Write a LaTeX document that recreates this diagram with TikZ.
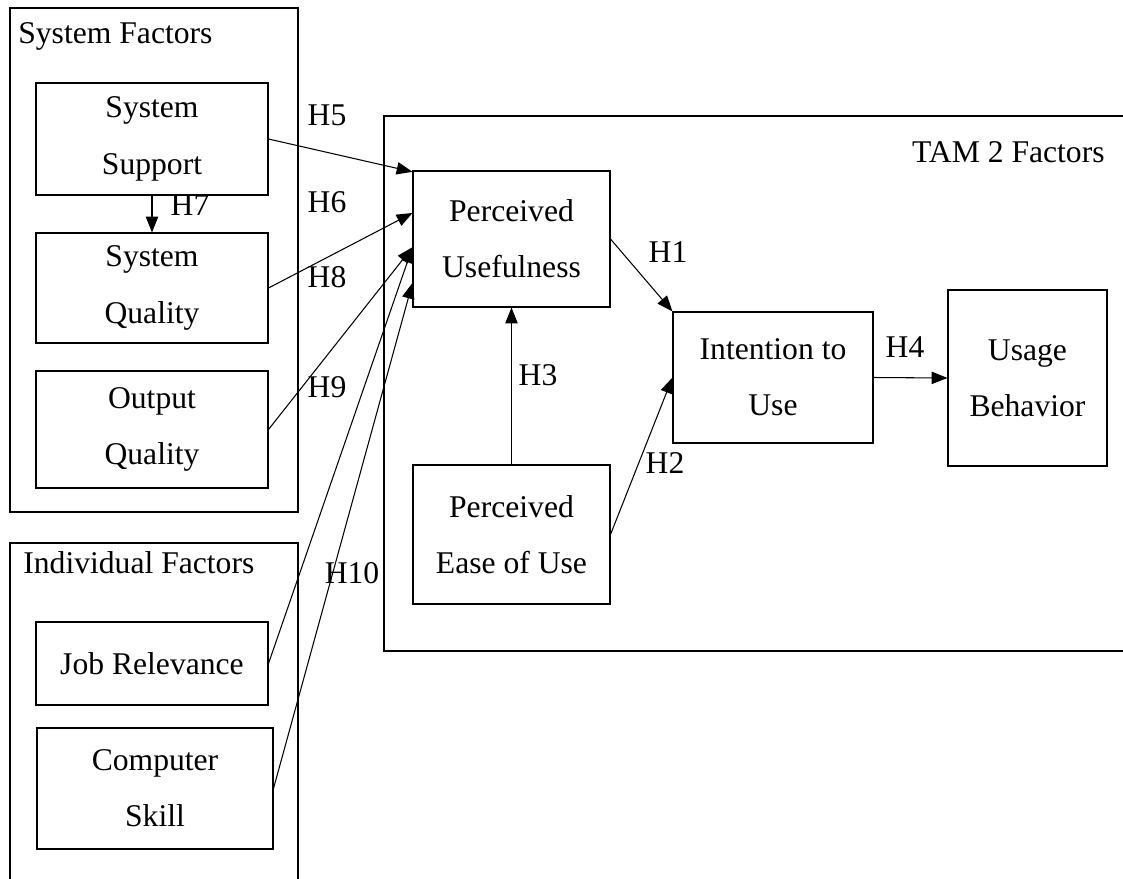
\documentclass[tikz,border=0pt]{standalone}
\usepackage{fontspec}
\setmainfont{Liberation Serif}
\usetikzlibrary{arrows.meta,calc}
\begin{document}
\begin{tikzpicture}[x=0.02cm,y=-0.02cm,
    every node/.style={font=\fontsize{18}{32}\selectfont},
    box/.style={draw, line width=0.6pt, align=center, inner sep=0pt},
    frame/.style={line width=1.2pt},
    grouplabel/.style={inner sep=0pt},
    arr/.style={-{Triangle[length=9pt,width=7pt]}, line width=0.6pt}]
    \useasboundingbox (0,0) rectangle (1123,879);

    % Group frames
    \draw[frame] (10,8) rectangle (298,512);
    \draw[frame] (10,879) -- (10,543) -- (298,543) -- (298,879);
    \draw[line width=0.6pt] (1123,116) -- (384,116) -- (384,651) -- (1123,651);
    \node[grouplabel, anchor=base west] (sysf) at (18,43) {System Factors};
    \node[grouplabel, anchor=base west] (indf) at (23,573) {Individual Factors};
    \node[grouplabel, anchor=base east] (tamf) at (1105,162) {TAM 2 Factors};

    % System and individual factors (left)
    \node[box, minimum width=4.64cm, minimum height=2.24cm] (ss) at (152,139) {System\\Support};
    \node[box, minimum width=4.64cm, minimum height=2.2cm] (sq) at (152,288) {System\\Quality};
    \node[box, minimum width=4.64cm, minimum height=2.34cm] (oq) at (152,429.5) {Output\\Quality};
    \node[box, minimum width=4.64cm, minimum height=1.66cm] (jr) at (152,663.5) {Job Relevance};
    \node[box, minimum width=4.72cm, minimum height=2.42cm] (cs) at (155,788.5) {Computer\\Skill};

    % TAM 2 factors (right)
    \node[box, minimum width=3.94cm, minimum height=2.72cm] (pu) at (511.5,239) {Perceived\\Usefulness};
    \node[box, minimum width=3.94cm, minimum height=2.78cm] (peu) at (511.5,534.5) {Perceived\\Ease of Use};
    \node[box, minimum width=4cm, minimum height=2.62cm] (iu) at (773,377.5) {Intention to\\Use};
    \node[box, minimum width=3.18cm, minimum height=3.52cm] (ub) at (1027.5,378) {Usage\\Behavior};

    % Hypotheses
    \draw[arr] (ss.south) -- (sq.north);
    \foreach \src/\pos in {ss/0.01, sq/0.31, oq/0.56, jr/0.56, cs/0.82}
        \draw[arr] (\src.east) -- ($(pu.north west)!\pos!(pu.south west)$);
    \draw[arr] (pu.east) -- (iu.north west);
    \draw[arr] (peu.east) -- (iu.west);
    \draw[arr] (peu.north) -- (pu.south);
    \draw[arr] (iu.east) -- (ub.west);

    \node (h1) at (668,252) {H1};
    \node (h2) at (665,463) {H2};
    \node (h3) at (538,375) {H3};
    \node (h4) at (905,347) {H4};
    \node (h5) at (327,115) {H5};
    \node (h6) at (327,202) {H6};
    \node (h7) at (190,205) {H7};
    \node (h8) at (327,277) {H8};
    \node (h9) at (327,387) {H9};
    \node (h10) at (352,573) {H10};
\end{tikzpicture}
\end{document}
